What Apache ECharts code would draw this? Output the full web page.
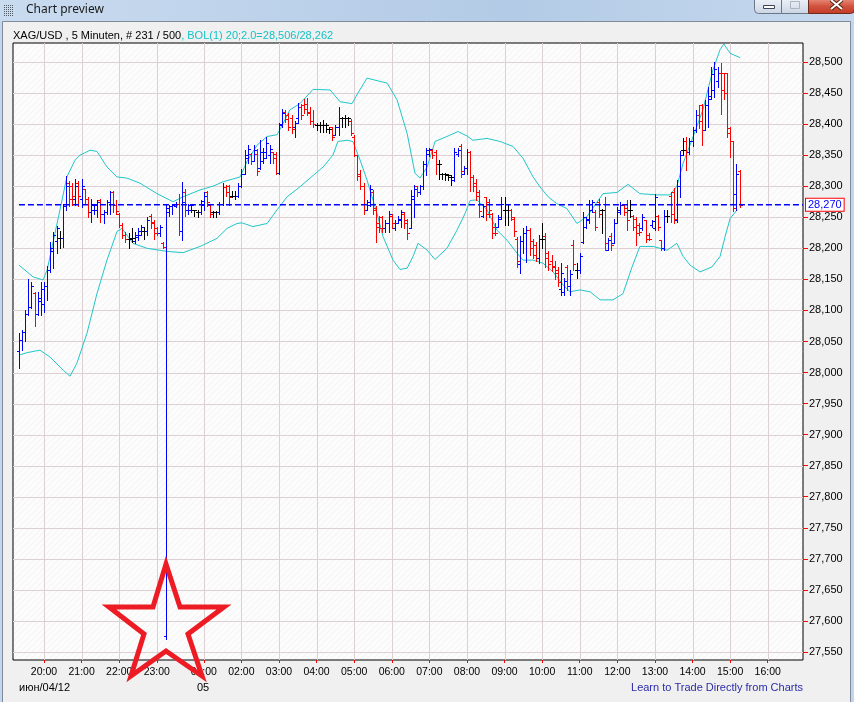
<!DOCTYPE html>
<html><head><meta charset="utf-8">
<script src="https://cdn.jsdelivr.net/npm/echarts@6/dist/echarts.min.js"></script>
<style>html,body{margin:0;padding:0;background:#f0f0f0;overflow:hidden}#c{width:854px;height:702px}</style>
</head><body><div id="c"></div>
<script>
// ---------------- data ----------------
const firstIndex = 4;            // bar index of the first 5-minute bar (19:20)
// [open, high, low, close] — night session 19:20 .. 02:25
const barsNight = [
[28.035,28.063,28.008,28.052],[28.052,28.068,28.036,28.066],[28.066,28.100,28.050,28.095],[28.095,28.150,28.092,28.105],
[28.105,28.146,28.104,28.140],[28.128,28.130,28.075,28.095],[28.095,28.130,28.092,28.120],[28.115,28.146,28.093,28.135],
[28.110,28.146,28.098,28.140],[28.140,28.172,28.117,28.165],[28.165,28.210,28.162,28.200],[28.195,28.227,28.168,28.222],
[28.212,28.236,28.192,28.232],[28.216,28.228,28.200,28.216],[28.216,28.272,28.202,28.268],[28.268,28.316,28.262,28.300],
[28.305,28.308,28.268,28.280],[28.300,28.305,28.270,28.285],[28.280,28.312,28.270,28.300],[28.305,28.308,28.268,28.285],
[28.280,28.312,28.266,28.300],[28.295,28.296,28.272,28.280],[28.280,28.283,28.250,28.258],[28.258,28.280,28.243,28.270],
[28.262,28.272,28.255,28.270],[28.262,28.278,28.250,28.275],[28.278,28.280,28.243,28.255],[28.255,28.262,28.240,28.258],
[28.258,28.278,28.255,28.275],[28.275,28.292,28.255,28.290],[28.290,28.292,28.258,28.270],[28.270,28.278,28.255,28.260],
[28.255,28.257,28.235,28.238],[28.238,28.240,28.216,28.222],[28.222,28.226,28.210,28.215],[28.215,28.224,28.200,28.215],
[28.216,28.232,28.210,28.216],[28.212,28.226,28.208,28.222],[28.218,28.232,28.214,28.228],[28.222,28.238,28.222,28.235],
[28.228,28.235,28.215,28.228],[28.228,28.250,28.222,28.245],[28.252,28.255,28.232,28.240],[28.242,28.245,28.215,28.225],
[28.232,28.235,28.222,28.225],[28.225,28.238,28.220,28.235],[28.208,28.210,28.200,28.202],[27.576,28.272,27.571,28.265],
[28.258,28.270,28.252,28.268],[28.268,28.272,28.255,28.270],[28.268,28.274,28.266,28.272],[28.272,28.288,28.221,28.228],
[28.228,28.307,28.213,28.275],[28.290,28.295,28.252,28.262],[28.262,28.272,28.255,28.270],[28.262,28.272,28.258,28.270],
[28.262,28.262,28.252,28.262],[28.258,28.262,28.250,28.258],[28.258,28.278,28.255,28.276],[28.270,28.290,28.262,28.285],
[28.290,28.292,28.268,28.275],[28.270,28.272,28.250,28.255],[28.258,28.260,28.250,28.258],[28.258,28.260,28.250,28.258],
[28.258,28.275,28.255,28.272],[28.272,28.305,28.270,28.298],[28.298,28.302,28.285,28.290],[28.300,28.302,28.270,28.282],
[28.285,28.292,28.282,28.285],[28.285,28.292,28.280,28.285],[28.285,28.305,28.283,28.300],[28.300,28.327,28.298,28.320],
[28.320,28.358,28.320,28.350],[28.345,28.366,28.338,28.360],[28.352,28.354,28.335,28.340],[28.340,28.366,28.340,28.358],
[28.352,28.360,28.318,28.325],[28.330,28.374,28.328,28.355],[28.340,28.362,28.338,28.355],[28.345,28.380,28.345,28.370],
[28.350,28.366,28.338,28.360],[28.355,28.355,28.338,28.345],[28.352,28.355,28.320,28.322],[28.322,28.401,28.320,28.398],
[28.400,28.425,28.395,28.418],[28.420,28.423,28.404,28.408],[28.415,28.418,28.390,28.395],[28.410,28.415,28.385,28.392],
[28.395,28.405,28.380,28.402]
];
// morning session
const barsMorning = [
[28.410,28.434,28.402,28.428],[28.428,28.432,28.408,28.415],[28.430,28.440,28.418,28.425],[28.432,28.442,28.415,28.418],
[28.420,28.428,28.400,28.405],[28.405,28.423,28.396,28.400],[28.398,28.401,28.390,28.398],[28.398,28.404,28.388,28.398],
[28.398,28.406,28.388,28.398],[28.398,28.401,28.388,28.398],[28.392,28.396,28.386,28.392],[28.395,28.396,28.375,28.380],
[28.382,28.398,28.382,28.395],[28.395,28.428,28.382,28.410],[28.410,28.412,28.396,28.410],[28.410,28.414,28.395,28.410],
[28.410,28.412,28.399,28.410],[28.405,28.408,28.382,28.385],[28.380,28.382,28.348,28.350],[28.350,28.350,28.310,28.316],
[28.320,28.326,28.296,28.300],[28.300,28.305,28.256,28.262],[28.262,28.278,28.262,28.275],[28.270,28.302,28.268,28.295],
[28.290,28.294,28.256,28.262],[28.265,28.268,28.210,28.235],[28.240,28.252,28.226,28.232],[28.250,28.252,28.226,28.232],
[28.232,28.245,28.226,28.240],[28.240,28.260,28.226,28.255],[28.252,28.255,28.232,28.240],[28.232,28.246,28.230,28.240],
[28.240,28.252,28.240,28.248],[28.245,28.262,28.235,28.258],[28.255,28.258,28.232,28.240],[28.245,28.248,28.215,28.225],
[28.232,28.294,28.232,28.285],[28.280,28.302,28.250,28.295],[28.300,28.300,28.284,28.290],[28.290,28.302,28.288,28.300],
[28.300,28.340,28.296,28.335],[28.335,28.362,28.318,28.358],[28.352,28.362,28.348,28.360],[28.358,28.360,28.345,28.350],
[28.355,28.358,28.320,28.335],[28.335,28.342,28.312,28.335],[28.320,28.322,28.312,28.320],[28.320,28.322,28.310,28.320],
[28.318,28.320,28.310,28.318],[28.315,28.318,28.302,28.315],[28.310,28.362,28.308,28.355],[28.352,28.362,28.348,28.358],
[28.365,28.368,28.315,28.325],[28.320,28.332,28.320,28.330],[28.330,28.360,28.320,28.355],[28.355,28.356,28.292,28.315],
[28.315,28.318,28.292,28.300],[28.305,28.312,28.278,28.285],[28.290,28.294,28.250,28.260],[28.252,28.272,28.250,28.268],
[28.282,28.283,28.246,28.255],[28.275,28.280,28.250,28.262],[28.255,28.257,28.216,28.225],[28.235,28.240,28.222,28.225],
[28.235,28.254,28.235,28.248],[28.250,28.283,28.248,28.272],[28.262,28.283,28.238,28.262],[28.262,28.272,28.238,28.262],
[28.262,28.264,28.246,28.250],[28.248,28.250,28.220,28.228],[28.215,28.218,28.170,28.180],[28.175,28.220,28.160,28.212],
[28.212,28.232,28.192,28.225],[28.225,28.236,28.178,28.230],[28.230,28.232,28.190,28.200],[28.212,28.215,28.184,28.190],
[28.205,28.210,28.180,28.185],[28.185,28.222,28.176,28.215],[28.215,28.240,28.200,28.215],[28.220,28.225,28.170,28.185],
[28.192,28.195,28.165,28.175],[28.180,28.190,28.164,28.170],[28.172,28.180,28.150,28.160],[28.165,28.170,28.140,28.145],
[28.135,28.176,28.125,28.160],[28.130,28.152,28.125,28.148],[28.170,28.173,28.133,28.140],[28.140,28.165,28.125,28.158],
[28.205,28.214,28.165,28.175],[28.165,28.176,28.152,28.165]
];
// afternoon session
const barsAfternoon = [
[28.165,28.192,28.160,28.188],[28.210,28.259,28.208,28.250],[28.235,28.251,28.232,28.248],[28.245,28.278,28.240,28.272],
[28.262,28.278,28.259,28.275],[28.258,28.262,28.229,28.235],[28.275,28.280,28.251,28.256],[28.262,28.264,28.224,28.262],
[28.272,28.283,28.197,28.208],[28.198,28.216,28.197,28.214],[28.220,28.224,28.197,28.205],[28.208,28.248,28.208,28.240],
[28.240,28.267,28.240,28.262],[28.258,28.275,28.256,28.270],[28.270,28.272,28.254,28.258],[28.265,28.278,28.229,28.245],
[28.262,28.278,28.251,28.262],[28.252,28.254,28.229,28.235],[28.248,28.251,28.205,28.225],[28.238,28.240,28.221,28.226],
[28.232,28.256,28.229,28.250],[28.245,28.246,28.210,28.215],[28.222,28.224,28.213,28.215],[28.238,28.246,28.235,28.244],
[28.232,28.288,28.229,28.283],[28.252,28.254,28.229,28.235],[28.213,28.213,28.197,28.200],[28.200,28.262,28.197,28.252],
[28.252,28.262,28.243,28.252],[28.285,28.291,28.243,28.255],[28.290,28.297,28.240,28.248],[28.245,28.310,28.243,28.300],
[28.300,28.356,28.283,28.350],[28.358,28.377,28.350,28.358],[28.372,28.380,28.326,28.355],[28.355,28.377,28.352,28.372],
[28.372,28.396,28.364,28.390],[28.390,28.423,28.388,28.415],[28.415,28.431,28.393,28.405],[28.430,28.433,28.366,28.390],
[28.390,28.439,28.390,28.430],[28.430,28.460,28.395,28.440],[28.445,28.492,28.441,28.480],[28.455,28.500,28.444,28.488],
[28.470,28.492,28.460,28.482],[28.482,28.498,28.417,28.455],[28.482,28.482,28.441,28.450],[28.482,28.482,28.380,28.385],
[28.393,28.396,28.347,28.372],[28.372,28.372,28.260,28.265],[28.288,28.336,28.262,28.320],[28.325,28.326,28.267,28.270]
];
// Bollinger band (20; 2.0): bar index -> value
const upperIdx = [4.0,8.5,11.7,13.0,17.1,19.3,21.9,23.5,26.7,28.9,32.1,35.3,38.5,42.6,48.1,53.2,56.4,61.8,65.9,69.1,74.6,76.8,80.0,83.2,86.4,88.3,90.5,93.7,97.9,103.3,106.5,110.3,112.2,115.1,118.3,121.5,124.7,127.9,130.4,132.0,134.3,136.8,140.6,144.1,147.0,148.9,153.4,157.6,161.7,164.9,168.1,170.3,172.9,175.7,178.9,182.1,185.3,190.4,194.9,198.4,202.2,207.7,211.8,214.0,216.0,219.2,222.3,225.5,227.8,229.0,231.0,234.2];
const upperVal = [28.173,28.154,28.149,28.165,28.262,28.315,28.342,28.350,28.358,28.356,28.331,28.315,28.313,28.305,28.288,28.275,28.283,28.294,28.300,28.307,28.315,28.340,28.366,28.380,28.383,28.401,28.423,28.433,28.456,28.455,28.436,28.433,28.450,28.474,28.470,28.466,28.439,28.385,28.321,28.313,28.331,28.372,28.380,28.388,28.381,28.374,28.377,28.372,28.364,28.345,28.315,28.299,28.283,28.272,28.264,28.240,28.251,28.288,28.290,28.303,28.288,28.286,28.286,28.300,28.337,28.380,28.423,28.487,28.520,28.529,28.514,28.507];
const lowerIdx = [4.0,6.6,10.7,13.9,18.1,20.3,22.5,25.7,28.9,32.1,35.3,36.9,40.4,44.9,51.3,56.4,61.8,67.2,70.4,73.6,75.2,78.7,83.2,86.4,89.6,93.7,96.9,101.1,104.2,105.8,108.7,110.6,112.9,115.1,118.3,120.2,123.4,125.6,127.9,129.8,131.4,134.3,136.8,140.6,143.8,146.4,148.0,150.2,153.4,156.6,159.8,163.0,164.9,168.1,171.3,174.5,177.7,179.9,183.1,186.3,189.5,193.6,196.8,199.7,202.2,206.4,210.9,214.0,216.0,218.2,221.4,225.2,227.8,229.4,231.0,233.2];
const lowerVal = [28.028,28.032,28.036,28.025,28.004,27.994,28.015,28.063,28.127,28.181,28.227,28.232,28.208,28.200,28.195,28.193,28.203,28.216,28.232,28.240,28.241,28.235,28.240,28.262,28.283,28.299,28.313,28.331,28.350,28.372,28.374,28.372,28.342,28.310,28.256,28.219,28.181,28.166,28.168,28.187,28.208,28.197,28.182,28.200,28.229,28.256,28.277,28.278,28.262,28.229,28.213,28.192,28.181,28.181,28.176,28.162,28.141,28.130,28.133,28.130,28.117,28.117,28.127,28.170,28.203,28.203,28.197,28.208,28.187,28.173,28.162,28.170,28.187,28.219,28.248,28.262];
// axis ticks
const hourIndex  = [12,24,36,48,63,75,87,99,111,123,135,147,159,171,183,195,207,219,231,243];
const hourLabels = ['20:00','21:00','22:00','23:00','01:00','02:00','03:00','04:00','05:00','06:00','07:00','08:00','09:00','10:00','11:00','12:00','13:00','14:00','15:00','16:00'];
const priceTicks = [27.55,27.60,27.65,27.70,27.75,27.80,27.85,27.90,27.95,28.00,28.05,28.10,28.15,28.20,28.25,28.30,28.35,28.40,28.45,28.50];
const lastPrice = 28.270;
const xAxisMin = 2.105, xAxisMax = 254.26;
const yAxisMin = 27.5371, yAxisMax = 28.5306;

// ---------------- chart ----------------
const bars = barsNight.concat(barsMorning, barsAfternoon);
const barData = bars.map((b, k) => [firstIndex + k, b[0], b[1], b[2], b[3]]);
const fmtPrice = v => v.toFixed(3).replace('.', ',');
const FONT = '"Liberation Sans", Arial, sans-serif';

const pat = document.createElement('canvas');
pat.width = 6; pat.height = 6;
const pg = pat.getContext('2d');
pg.fillStyle = '#fcfcfc'; pg.fillRect(0, 0, 6, 6);
pg.strokeStyle = '#f3f3f3'; pg.lineWidth = 1;
pg.beginPath(); pg.moveTo(0, 6); pg.lineTo(6, 0); pg.stroke();

const chart = echarts.init(document.getElementById('c'), null, {renderer: 'canvas', width: 854, height: 702});

function gridLineV(params, api) {
  const cs = params.coordSys;
  const x = Math.round(api.coord([api.value(0), yAxisMin])[0]) + 0.5;
  return {type: 'line', shape: {x1: x, y1: cs.y, x2: x, y2: cs.y + cs.height}, style: {stroke: '#dcd0d3', lineWidth: 1}};
}
function gridLineH(params, api) {
  const cs = params.coordSys;
  const y = Math.round(api.coord([xAxisMin, api.value(1)])[1]) + 0.5;
  return {type: 'line', shape: {x1: cs.x, y1: y, x2: cs.x + cs.width, y2: y}, style: {stroke: '#dcd0d3', lineWidth: 1}};
}
function renderBar(params, api) {
  const i = api.value(0), o = api.value(1), h = api.value(2), l = api.value(3), c = api.value(4);
  const px = Math.round(api.coord([i, o])[0]);
  const yo = Math.round(api.coord([i, o])[1]);
  const yh = Math.round(api.coord([i, h])[1]);
  const yl = Math.round(api.coord([i, l])[1]);
  const yc = Math.round(api.coord([i, c])[1]);
  const col = c > o ? '#0000ff' : (c < o ? '#ff0000' : '#000000');
  const st = {stroke: col, lineWidth: 1};
  return {type: 'group', children: [
    {type: 'line', shape: {x1: px + 0.5, y1: yh, x2: px + 0.5, y2: yl + 1}, style: st},
    {type: 'line', shape: {x1: px - 2, y1: yo + 0.5, x2: px + 1, y2: yo + 0.5}, style: st},
    {type: 'line', shape: {x1: px, y1: yc + 0.5, x2: px + 3, y2: yc + 0.5}, style: st}
  ]};
}

// window chrome
const chrome = [];
chrome.push({type: 'rect', z: -20, shape: {x: 0, y: 0, width: 854, height: 22},
  style: {fill: new echarts.graphic.LinearGradient(0, 0, 1, 0, [
    {offset: 0, color: '#c9dbef'}, {offset: 0.35, color: '#bcd1ea'}, {offset: 0.6, color: '#b3cbe6'}, {offset: 1, color: '#c6d9ee'}])}});
chrome.push({type: 'rect', z: -20, shape: {x: 0, y: 22, width: 3, height: 680}, style: {fill: '#c4d6eb'}});
chrome.push({type: 'rect', z: -20, shape: {x: 850, y: 22, width: 4, height: 680}, style: {fill: '#c4d6eb'}});
chrome.push({type: 'rect', z: -19, shape: {x: 2.5, y: 21.5, width: 848, height: 690}, style: {fill: 'none', stroke: '#7f8b99', lineWidth: 1}});
for (let r = 0; r < 6; r++) for (let cc = 0; cc < 5; cc++) {
  chrome.push({type: 'rect', z: -18, shape: {x: 4 + cc * 2, y: 5 + r * 2, width: 1, height: 1}, style: {fill: '#505a66'}});
}
chrome.push({type: 'text', z: -18, left: 26, top: 4, style: {text: 'Chart preview', fill: '#1a1a1a', font: '12px "Noto Sans", "DejaVu Sans", sans-serif'}});
const btnFill = new echarts.graphic.LinearGradient(0, 0, 0, 1, [{offset: 0, color: '#eef2f7'}, {offset: 0.5, color: '#dce4ee'}, {offset: 1, color: '#c8d4e3'}]);
chrome.push({type: 'rect', z: -17, shape: {x: 754.5, y: -1, width: 27, height: 14.5, r: [0, 0, 0, 4]}, style: {fill: btnFill, stroke: '#6b7786'}});
chrome.push({type: 'rect', z: -17, shape: {x: 781.5, y: -1, width: 27, height: 14.5}, style: {fill: btnFill, stroke: '#6b7786'}});
chrome.push({type: 'rect', z: -17, shape: {x: 808.5, y: -1, width: 46, height: 14.5, r: [0, 0, 4, 0]},
  style: {fill: new echarts.graphic.LinearGradient(0, 0, 0, 1, [{offset: 0, color: '#e8907e'}, {offset: 0.5, color: '#d1533e'}, {offset: 1, color: '#c23a24'}]), stroke: '#6f2a1e'}});
chrome.push({type: 'rect', z: -16, shape: {x: 763.5, y: 5.5, width: 11, height: 3}, style: {fill: '#ffffff', stroke: '#3a4656'}});
chrome.push({type: 'rect', z: -16, shape: {x: 790.5, y: 1.5, width: 9, height: 7}, style: {fill: 'none', stroke: '#a9b4c2'}});
chrome.push({type: 'line', z: -16, shape: {x1: 831, y1: 0, x2: 842, y2: 9}, style: {stroke: '#5a1e14', lineWidth: 4}});
chrome.push({type: 'line', z: -16, shape: {x1: 842, y1: 0, x2: 831, y2: 9}, style: {stroke: '#5a1e14', lineWidth: 4}});
chrome.push({type: 'line', z: -15, shape: {x1: 831, y1: 0, x2: 842, y2: 9}, style: {stroke: '#ffffff', lineWidth: 2}});
chrome.push({type: 'line', z: -15, shape: {x1: 842, y1: 0, x2: 831, y2: 9}, style: {stroke: '#ffffff', lineWidth: 2}});
// date row and link text
chrome.push({type: 'text', z: 5, left: 19, top: 682, style: {text: 'июн/04/12', fill: '#000', font: '11px ' + FONT}});
chrome.push({type: 'text', z: 5, left: 197, top: 682, style: {text: '05', fill: '#000', font: '11px ' + FONT}});
chrome.push({type: 'text', z: 5, right: 51, top: 682, style: {text: 'Learn to Trade Directly from Charts', fill: '#2b2ba8', font: '11px ' + FONT}});
// red star annotation
chrome.push({type: 'polygon', z: 100, shape: {points: [[166, 564], [180, 607], [224, 607], [188, 634], [202, 676], [166, 651], [131, 676], [144, 634], [109, 607], [153, 607]]},
  style: {fill: 'none', stroke: '#ed1c24', lineWidth: 5, lineJoin: 'miter'}});

chart.setOption({
  backgroundColor: '#f0f0f0',
  animation: false,
  textStyle: {fontFamily: FONT},
  title: {
    left: 13, top: 30, padding: 0,
    text: '{a|XAG/USD , 5 Minuten, # 231 / 500}{b|, BOL(1) 20;2.0=28,506/28,262}',
    textStyle: {fontWeight: 'normal', fontSize: 11, rich: {
      a: {color: '#000', fontSize: 11, fontWeight: 'normal', fontFamily: FONT},
      b: {color: '#14c3c8', fontSize: 11, fontWeight: 'normal', fontFamily: FONT}}}
  },
  grid: {left: 13, right: 51, top: 43, bottom: 42, show: true, borderColor: '#000', borderWidth: 1,
    backgroundColor: {image: pat, repeat: 'repeat'}},
  xAxis: {
    type: 'value', min: xAxisMin, max: xAxisMax,
    axisLine: {show: false}, splitLine: {show: false},
    axisTick: {show: true, customValues: hourIndex, length: 3, lineStyle: {color: '#ff0000'}},
    axisLabel: {customValues: hourIndex, margin: 7, fontSize: 10.5, color: '#000',
      formatter: v => { const k = hourIndex.indexOf(Math.round(v)); return k >= 0 ? hourLabels[k] : ''; }}
  },
  yAxis: {
    type: 'value', position: 'right', min: yAxisMin, max: yAxisMax,
    axisLine: {show: false}, splitLine: {show: false},
    axisTick: {show: true, customValues: priceTicks, length: 5, lineStyle: {color: '#ff0000'}},
    axisLabel: {customValues: priceTicks, margin: 6, fontSize: 11, color: '#000', formatter: v => fmtPrice(v)}
  },
  graphic: chrome,
  series: [
    {type: 'custom', name: 'vgrid', z: 1, silent: true, clip: true, data: hourIndex.map(v => [v, yAxisMin]), encode: {x: 0, y: 1}, renderItem: gridLineV},
    {type: 'custom', name: 'hgrid', z: 1, silent: true, clip: true, data: priceTicks.map(v => [xAxisMin, v]), encode: {x: 0, y: 1}, renderItem: gridLineH},
    {type: 'line', name: 'upper', z: 3, silent: true, symbol: 'none', smooth: false,
      data: upperIdx.map((x, k) => [x, upperVal[k]]), lineStyle: {color: '#22c6c8', width: 1}},
    {type: 'line', name: 'lower', z: 3, silent: true, symbol: 'none', smooth: false,
      data: lowerIdx.map((x, k) => [x, lowerVal[k]]), lineStyle: {color: '#22c6c8', width: 1}},
    {type: 'custom', name: 'XAG/USD', z: 4, clip: true, data: barData, encode: {x: 0, y: [1, 2, 3, 4]}, renderItem: renderBar},
    {type: 'line', name: 'last', z: 5, silent: true, symbol: 'none',
      data: [[firstIndex, lastPrice], [xAxisMax, lastPrice]],
      lineStyle: {color: '#0000ff', width: 1.5, type: [6, 3]},
      endLabel: {show: true, formatter: () => fmtPrice(lastPrice), color: '#0000ff', fontSize: 11,
        backgroundColor: '#ffffff', borderColor: '#ff0000', borderWidth: 1, padding: [1, 2, 0, 2], distance: 3}}
  ]
});
</script>
</body></html>
